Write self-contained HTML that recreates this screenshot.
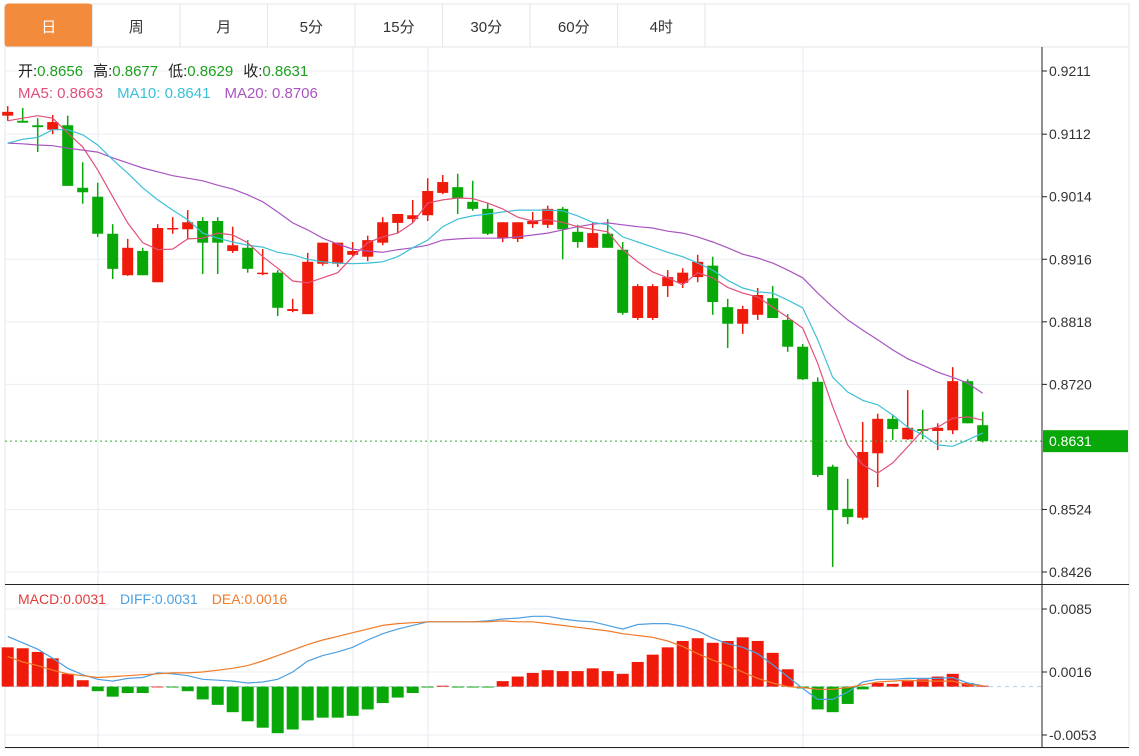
<!DOCTYPE html>
<html><head><meta charset="utf-8">
<style>
html,body{margin:0;padding:0;background:#fff;}
body{width:1139px;height:751px;overflow:hidden;font-family:"Liberation Sans","Noto Sans CJK SC",sans-serif;}
svg text{font-family:"Liberation Sans","Noto Sans CJK SC",sans-serif;}
</style></head>
<body>
<svg id="chart" width="1139" height="751" xmlns="http://www.w3.org/2000/svg">
<rect x="5" y="4" width="1124" height="744" fill="#fff" stroke="#e3e6ea"/>
<g id="tabs"></g>
<g id="grid"></g>
<g id="main"></g>
<g id="macd"></g>
<g id="axes"></g>
<g id="legend">
<text x="18" y="76" font-size="15"><tspan fill="#222">开:</tspan><tspan fill="#1ca01c">0.8656</tspan><tspan fill="#222" dx="10">高:</tspan><tspan fill="#1ca01c">0.8677</tspan><tspan fill="#222" dx="10">低:</tspan><tspan fill="#1ca01c">0.8629</tspan><tspan fill="#222" dx="10">收:</tspan><tspan fill="#1ca01c">0.8631</tspan></text>
<text x="18" y="98" font-size="15"><tspan fill="#e0507a">MA5: 0.8663</tspan><tspan fill="#3cc0d8" dx="14">MA10: 0.8641</tspan><tspan fill="#a855c0" dx="14">MA20: 0.8706</tspan></text>
<text x="18" y="604" font-size="14"><tspan fill="#e03c3c">MACD:0.0031</tspan><tspan fill="#4ea0e0" dx="14">DIFF:0.0031</tspan><tspan fill="#f07a28" dx="14">DEA:0.0016</tspan></text>
</g>
</svg>
<script>
const tabLabels=["日","周","月","5分","15分","30分","60分","4时"];
const priceTicks=[0.9211,0.9112,0.9014,0.8916,0.8818,0.8720,0.8524,0.8426];
const macdTicks=[0.0085,0.0016,-0.0053];
const lastPrice=0.8631;
const opens=[.9141,.9133,.9126,.9119,.9126,.9028,.9014,.8956,.8891,.8929,.8880,.8963,.8963,.8976,.8976,.8929,.8934,.8893,.8895,.8835,.8830,.8909,.8909,.8923,.8920,.8942,.8973,.8979,.8985,.9020,.9029,.9006,.8995,.8949,.8948,.8971,.8970,.8995,.8959,.8934,.8956,.8931,.8824,.8824,.8874,.8879,.8888,.8906,.8841,.8815,.8829,.8855,.8821,.8779,.8724,.8591,.8525,.8511,.8612,.8666,.8634,.8650,.8647,.8648,.8725,.8656];
const closes=[.9147,.9130,.9123,.9131,.9031,.9021,.8956,.8901,.8934,.8891,.8965,.8965,.8974,.8942,.8942,.8938,.8901,.8895,.8840,.8838,.8912,.8942,.8942,.8929,.8946,.8974,.8987,.8985,.9023,.9037,.9012,.8995,.8956,.8974,.8974,.8976,.8995,.8963,.8943,.8957,.8934,.8832,.8874,.8874,.8888,.8895,.8912,.8849,.8815,.8838,.8860,.8824,.8779,.8728,.8578,.8523,.8512,.8614,.8666,.8650,.8652,.8647,.8652,.8725,.8659,.8631];
const highs=[.9156,.9153,.9137,.9142,.9141,.9068,.9036,.8971,.8948,.8934,.8971,.8982,.8993,.8982,.8982,.8967,.8946,.8932,.8899,.8854,.8926,.8942,.8942,.8943,.8953,.8982,.8987,.9009,.9043,.9048,.9050,.9039,.9004,.8974,.8974,.8990,.9000,.8998,.8970,.8973,.8979,.8943,.8877,.8877,.8899,.8902,.8923,.8920,.8854,.8843,.8871,.8874,.8830,.8783,.8731,.8594,.8572,.8661,.8674,.8672,.8711,.8680,.8659,.8747,.8728,.8677];
const lows=[.9133,.9130,.9084,.9112,.9031,.9003,.8951,.8885,.8890,.8891,.8880,.8956,.8948,.8893,.8893,.8926,.8895,.8891,.8827,.8833,.8830,.8906,.8904,.8921,.8913,.8938,.8957,.8974,.8976,.9018,.8987,.8992,.8954,.8943,.8943,.8965,.8965,.8916,.8934,.8934,.8934,.8829,.8821,.8821,.8857,.8871,.8880,.8829,.8777,.8799,.8821,.8824,.8771,.8727,.8575,.8434,.8501,.8508,.8559,.8633,.8633,.8634,.8617,.8642,.8659,.8629];
const ma5=[.9133,.9137,.9141,.9137,.9114,.9092,.9056,.9014,.8973,.8942,.8931,.8932,.8948,.8949,.8957,.8954,.8942,.8920,.8902,.8882,.8879,.8887,.8895,.8920,.8942,.8951,.8957,.8973,.9004,.9009,.9012,.9011,.9004,.8995,.8982,.8976,.8978,.8974,.8967,.8963,.8959,.8931,.8912,.8896,.8887,.8876,.8895,.8887,.8872,.8863,.8857,.8841,.8825,.8808,.8753,.8685,.8625,.8594,.8581,.8597,.8622,.8648,.8653,.8667,.8669,.8664];
const ma10=[.9098,.9104,.9107,.9119,.9119,.9111,.9095,.9072,.9051,.9028,.9009,.8993,.8978,.8957,.8949,.8943,.8938,.8935,.8927,.8923,.8916,.8912,.8910,.8909,.8910,.8912,.8920,.8934,.8946,.8967,.8979,.8984,.8987,.8990,.8993,.8993,.8993,.8992,.8984,.8974,.8970,.8951,.8943,.8935,.8927,.8920,.8910,.8899,.8883,.8871,.8865,.8863,.8852,.8840,.8790,.8731,.8708,.8695,.8688,.8672,.8653,.8641,.8625,.8623,.8633,.8644];
const ma20=[.9098,.9097,.9095,.9094,.9090,.9087,.9084,.9075,.9067,.9059,.9053,.9047,.9043,.9039,.9032,.9026,.9017,.9006,.8990,.8973,.8962,.8949,.8940,.8932,.8929,.8927,.8931,.8934,.8938,.8946,.8948,.8949,.8949,.8949,.8951,.8954,.8957,.8962,.8967,.8971,.8973,.8970,.8967,.8965,.8960,.8957,.8951,.8943,.8934,.8924,.8918,.8910,.8899,.8887,.8863,.8841,.8821,.8805,.8790,.8774,.8760,.8750,.8739,.8731,.8722,.8706];
const macdHist=[.0043,.0042,.0038,.0031,.0014,.0007,-.0005,-.0011,-.0007,-.0007,.0000,-.0001,-.0005,-.0014,-.0020,-.0028,-.0038,-.0045,-.0051,-.0047,-.0037,-.0034,-.0034,-.0032,-.0025,-.0018,-.0012,-.0007,-.0001,.0001,-.0001,-.0001,-.0001,.0006,.0011,.0015,.0018,.0017,.0017,.0020,.0017,.0014,.0027,.0035,.0043,.0050,.0053,.0048,.0050,.0054,.0050,.0037,.0019,-.0002,-.0025,-.0028,-.0019,-.0003,.0004,.0003,.0006,.0008,.0011,.0014,.0004,.0001];
const diff=[.0055,.0048,.0041,.0031,.0020,.0013,.0008,.0006,.0009,.0010,.0015,.0014,.0012,.0008,.0007,.0006,.0004,.0005,.0008,.0016,.0028,.0034,.0038,.0043,.0051,.0058,.0063,.0067,.0071,.0071,.0071,.0071,.0072,.0074,.0075,.0077,.0077,.0074,.0072,.0071,.0067,.0063,.0068,.0069,.0069,.0066,.0061,.0053,.0047,.0043,.0036,.0024,.0011,-.0002,-.0014,-.0014,-.0006,.0005,.0008,.0008,.0009,.0009,.0009,.0010,.0004,.0001];
const dea=[.0033,.0027,.0023,.0018,.0014,.0012,.0010,.0011,.0012,.0013,.0014,.0015,.0015,.0016,.0018,.0020,.0023,.0028,.0034,.0040,.0046,.0051,.0055,.0059,.0063,.0067,.0069,.0070,.0071,.0071,.0071,.0071,.0071,.0072,.0071,.0071,.0069,.0067,.0065,.0063,.0061,.0058,.0056,.0054,.0050,.0044,.0036,.0029,.0023,.0016,.0009,.0004,.0000,-.0001,-.0003,-.0003,-.0001,.0002,.0005,.0006,.0007,.0006,.0006,.0006,.0002,.0001];

const NS="http://www.w3.org/2000/svg";
const UP="#f01a0a", DOWN="#08a808";
const xOf=i=>7.7+15*i;
const yP=v=>71+(0.9211-v)/0.0785*501;
const yM=v=>672-(v-0.0016)/0.0069*63;
function mk(tag,attrs,parent){const e=document.createElementNS(NS,tag);for(const k in attrs)e.setAttribute(k,attrs[k]);parent.appendChild(e);return e;}

// tabs
const tabs=document.getElementById('tabs');
tabLabels.forEach((t,i)=>{
  const x0=5+i*87.5, sel=i===0;
  const r=mk('rect',{x:x0,y:4,width:87.5,height:43,fill:sel?"#f28b3c":"#fff",stroke:sel?"#f28b3c":"#e3e6ea",rx:sel?4:0},tabs);
  
  
  const tx=mk('text',{x:x0+43.75,y:32,'text-anchor':'middle','font-size':15,fill:sel?"#fff":"#333"},tabs);
  tx.textContent=t;
  
  
});
mk('line',{x1:5,y1:47,x2:1129,y2:47,stroke:"#e3e6ea"},tabs);

// grid
const grid=document.getElementById('grid');
priceTicks.forEach(v=>{const l=mk('line',{x1:5,x2:1042,y1:yP(v),y2:yP(v),stroke:"#e9eef3"},grid);
  
  });
macdTicks.forEach(v=>{const l=mk('line',{x1:5,x2:1042,y1:yM(v),y2:yM(v),stroke:"#e9eef3"},grid);
  
  });
[98,353,428,803].forEach(x=>{mk('line',{x1:x,x2:x,y1:47,y2:748,stroke:"#e6ebf0"},grid);});

// MA lines + candles
const main=document.getElementById('main');
function poly(arr,yf,color,name,parent){
  const p=mk('polyline',{points:arr.map((v,i)=>xOf(i)+','+yf(v).toFixed(1)).join(' '),fill:'none',stroke:color,'stroke-width':1.2},parent);
  
  
}
opens.forEach((o,i)=>{
  const c=closes[i], up=c>=o, col=up?UP:DOWN, x=xOf(i);
  const g=mk('g',{},main);
  
  
  mk('line',{x1:x,x2:x,y1:yP(highs[i]),y2:yP(lows[i]),stroke:col,'stroke-width':1.5},g);
  const top=yP(Math.max(o,c)), bot=yP(Math.min(o,c));
  mk('rect',{x:x-5.5,y:top,width:11,height:Math.max(1.5,bot-top),fill:col},g);
});
poly(ma20,yP,"#a855c0","ma20-line",main);
poly(ma10,yP,"#3cc0d8","ma10-line",main);
poly(ma5,yP,"#e0507a","ma5-line",main);
const pl=mk('line',{x1:5,x2:1042,y1:yP(lastPrice),y2:yP(lastPrice),stroke:"#3aa63a",'stroke-dasharray':"2,3"},main);



// MACD
const macd=document.getElementById('macd');
mk('line',{x1:5,x2:1042,y1:yM(0),y2:yM(0),stroke:"#a8cde8",'stroke-dasharray':"4,4"},macd);
macdHist.forEach((v,i)=>{
  const y0=yM(0), y1=yM(v);
  const r=mk('rect',{x:xOf(i)-6,y:Math.min(y0,y1),width:12,height:Math.max(0.8,Math.abs(y1-y0)),fill:v>=0?UP:DOWN},macd);
  
  
});
poly(diff,yM,"#4ea0e0","diff-line",macd);
poly(dea,yM,"#f07a28","dea-line",macd);

// axes
const axes=document.getElementById('axes');
mk('line',{x1:1042,x2:1042,y1:47,y2:748,stroke:"#222"},axes);
mk('line',{x1:5,x2:1129,y1:584.5,y2:584.5,stroke:"#222"},axes);
mk('line',{x1:5,x2:1129,y1:747.5,y2:747.5,stroke:"#222"},axes);
function tick(v,y,name){
  mk('line',{x1:1042,x2:1047,y1:y,y2:y,stroke:"#222"},axes);
  const t=mk('text',{x:1049,y:y+5,'font-size':14,fill:"#333"},axes);
  t.textContent=v;
  
  
}
priceTicks.forEach(v=>tick(v.toFixed(4),yP(v),'price-tick-label'));
macdTicks.forEach(v=>tick(v.toFixed(4),yM(v),'macd-tick-label'));
const lb=mk('rect',{x:1043,y:yP(lastPrice)-11,width:85,height:22,fill:"#08a808"},axes);


const lt=mk('text',{x:1049,y:yP(lastPrice)+5,'font-size':14,fill:"#fff"},axes);
lt.textContent=lastPrice.toFixed(4);


</script>
</body></html>
